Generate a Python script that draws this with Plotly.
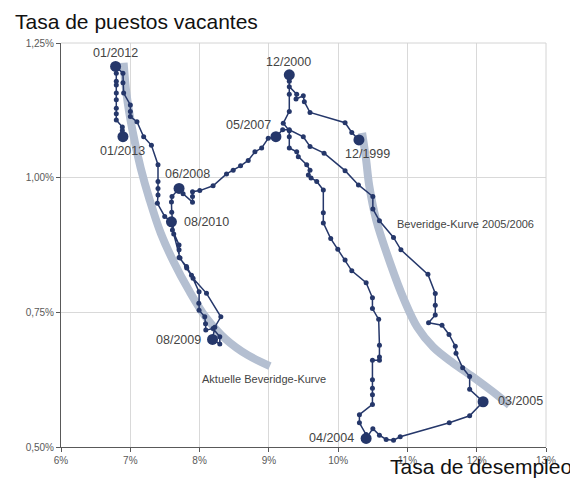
import plotly.graph_objects as go

# Trajectory: unemployment rate (%) and vacancy rate (%), chronological 12/1999 -> 01/2013
u_rate = [
    10.30, 10.197, 10.100, 9.594, 9.512, 9.497, 9.392, 9.402, 9.295, 9.295,
    9.295, 9.295, 9.295, 9.208, 9.295, 9.295, 9.295, 9.402, 9.425, 9.546,
    9.594, 9.570, 9.609, 9.691, 9.786, 9.786, 9.786, 9.893, 9.995, 10.100, 10.197,
    10.404, 10.495, 10.495, 10.585, 10.596, 10.596, 10.596, 10.495, 10.495,
    10.495, 10.495, 10.495, 10.307, 10.307, 10.404, 10.404,
    10.501, 10.596, 10.693, 10.799, 10.896, 11.604, 11.898, 12.092,
    11.898, 11.898, 11.797, 11.701, 11.691, 11.600, 11.499, 11.305, 11.402, 11.402,
    11.402, 11.296, 10.906, 10.799, 10.596, 10.501, 10.501, 10.293, 10.100, 9.797,
    9.594, 9.497, 9.295, 9.199, 9.102,
    8.991, 8.896, 8.799, 8.702, 8.592, 8.485, 8.389, 8.195, 8.003, 7.898, 7.898,
    7.898, 7.762, 7.704,
    7.602, 7.594, 7.598, 7.627, 7.718, 7.815, 7.906, 8.100, 8.307, 8.220, 8.187,
    8.292, 8.292, 8.195, 8.090, 8.086, 8.075, 7.993, 7.989, 7.993, 7.883, 7.811,
    7.704, 7.704, 7.704, 7.608, 7.594,
    7.497, 7.391, 7.400, 7.400, 7.400, 7.400, 7.305, 7.193, 7.096, 7.001, 7.001,
    7.001, 6.904, 6.894, 6.894, 6.788,
    6.798, 6.798, 6.798, 6.798, 6.798, 6.798, 6.798, 6.798, 6.885, 6.885, 6.894,
]
v_rate = [
    1.070, 1.084, 1.102, 1.121, 1.141, 1.152, 1.146, 1.155, 1.169, 1.191,
    1.179, 1.155, 1.123, 1.101, 1.087, 1.076, 1.055, 1.048, 1.039, 1.024,
    1.014, 1.005, 0.9995, 0.993, 0.977, 0.935, 0.916, 0.887, 0.867, 0.847, 0.827,
    0.805, 0.777, 0.757, 0.737, 0.689, 0.667, 0.661, 0.661, 0.625,
    0.609, 0.597, 0.579, 0.560, 0.545, 0.523, 0.516,
    0.534, 0.522, 0.514, 0.5125, 0.519, 0.545, 0.558, 0.584,
    0.607, 0.631, 0.647, 0.674, 0.687, 0.709, 0.726, 0.7305, 0.745, 0.763,
    0.785, 0.8205, 0.866, 0.889, 0.920, 0.942, 0.965, 0.9865, 1.013, 1.0455,
    1.058, 1.076, 1.089, 1.089, 1.076,
    1.073, 1.055, 1.048, 1.032, 1.022, 1.014, 1.007, 0.985, 0.976, 0.974, 0.965,
    0.9545, 0.970, 0.980,
    0.965, 0.955, 0.936, 0.8954, 0.8508, 0.8322, 0.8131, 0.7852, 0.7417, 0.7225, 0.6997,
    0.691, 0.7045, 0.720, 0.717, 0.729, 0.7417, 0.754, 0.767, 0.788, 0.819, 0.835,
    0.852, 0.866, 0.875, 0.903, 0.918,
    0.928, 0.9525, 0.968, 0.980, 0.993, 1.024, 1.060, 1.076, 1.104, 1.1135, 1.123,
    1.135, 1.157, 1.176, 1.194, 1.2065,
    1.194, 1.179, 1.172, 1.157, 1.1445, 1.129, 1.1185, 1.107, 1.094, 1.0875, 1.076,
]

# Highlighted dates
key_dates = ["12/1999", "12/2000", "04/2004", "03/2005", "05/2007",
             "06/2008", "08/2009", "08/2010", "01/2012", "01/2013"]
key_u = [10.30, 9.295, 10.404, 12.092, 9.102, 7.704, 8.187, 7.594, 6.788, 6.894]
key_v = [1.070, 1.191, 0.516, 0.584, 1.076, 0.980, 0.6997, 0.918, 1.2065, 1.076]

# Beveridge curves (gray bands)
curve_now_u = [6.904, 6.947, 7.035, 7.150, 7.280, 7.439, 7.627, 7.844, 8.090, 8.379, 8.697, 9.015]
curve_now_v = [1.2133, 1.1538, 1.0851, 1.0181, 0.9586, 0.8973, 0.8434, 0.7913, 0.7411, 0.7002, 0.6705, 0.6500]
curve_0506_u = [10.346, 10.404, 10.447, 10.549, 10.751, 10.954, 11.142, 11.373, 11.662, 11.952, 12.241, 12.472]
curve_0506_v = [1.0832, 1.0330, 0.9865, 0.9215, 0.8415, 0.7727, 0.7225, 0.6854, 0.6556, 0.6296, 0.6017, 0.5775]

x_ticks = [6, 7, 8, 9, 10, 11, 12, 13]
y_ticks = [0.50, 0.75, 1.00, 1.25]
x_ticktext = [f"{v}%" for v in x_ticks]
y_ticktext = [f"{v:.2f}".replace(".", ",") + "%" for v in y_ticks]

NAVY = "#25376a"
BAND = "rgb(180,191,209)"
LBL = "#444444"

fig = go.Figure()
for cu, cv in [(curve_now_u, curve_now_v), (curve_0506_u, curve_0506_v)]:
    fig.add_trace(go.Scatter(x=cu, y=cv, mode="lines",
                             line=dict(color=BAND, width=8, shape="spline", smoothing=1.0),
                             hoverinfo="skip"))
fig.add_trace(go.Scatter(x=u_rate, y=v_rate, mode="lines+markers",
                         line=dict(color=NAVY, width=1.5),
                         marker=dict(color=NAVY, size=5)))
fig.add_trace(go.Scatter(x=key_u, y=key_v, mode="markers",
                         marker=dict(color=NAVY, size=11), text=key_dates))

# Date labels: (text, x, y, xanchor)
labels = [
    ("01/2012", 6.788, 1.232, "center"),
    ("01/2013", 6.882, 1.050, "center"),
    ("06/2008", 7.822, 1.007, "center"),
    ("05/2007", 8.712, 1.098, "center"),
    ("12/2000", 9.283, 1.215, "center"),
    ("12/1999", 10.426, 1.044, "center"),
    ("08/2010", 7.753, 0.918, "left"),
    ("08/2009", 8.047, 0.698, "right"),
    ("03/2005", 12.284, 0.585, "left"),
    ("04/2004", 10.259, 0.516, "right"),
]
for t, x, y, xa in labels:
    fig.add_annotation(x=x, y=y, text=t, showarrow=False, xanchor=xa, yanchor="middle",
                       font=dict(family="Arial, Liberation Sans", size=12.5, color=LBL))
fig.add_annotation(x=8.013, y=0.627, text="Aktuelle Beveridge-Kurve", showarrow=False,
                   xanchor="left", yanchor="middle",
                   font=dict(family="Arial, Liberation Sans", size=11, color=LBL))
fig.add_annotation(x=10.823, y=0.914, text="Beveridge-Kurve 2005/2006", showarrow=False,
                   xanchor="left", yanchor="middle",
                   font=dict(family="Arial, Liberation Sans", size=11, color=LBL))

fig.add_annotation(xref="paper", yref="paper", x=-0.099, y=1.052, text="Tasa de puestos vacantes",
                   showarrow=False, xanchor="left", yanchor="middle",
                   font=dict(family="Arial, Liberation Sans", size=21, color="#111111"))
fig.add_annotation(xref="paper", yref="paper", x=0.674, y=-0.049, text="Tasa de desempleo",
                   showarrow=False, xanchor="left", yanchor="middle",
                   font=dict(family="Arial, Liberation Sans", size=21, color="#111111"))

# top and right frame lines (light)
fig.add_shape(type="line", xref="paper", yref="paper", x0=0, x1=1, y0=1, y1=1,
              line=dict(color="#d4d4d4", width=1))
fig.add_shape(type="line", xref="paper", yref="paper", x0=1, x1=1, y0=0, y1=1,
              line=dict(color="#d4d4d4", width=1))

fig.update_layout(
    width=570, height=483,
    margin=dict(l=53, r=32, t=35, b=44),
    plot_bgcolor="white", paper_bgcolor="white",
    showlegend=False,
    font=dict(family="Arial, Liberation Sans", color="#595959"),
    xaxis=dict(range=[6, 13], tickvals=x_ticks, ticktext=x_ticktext,
               showgrid=True, gridcolor="#d9d9d9", gridwidth=1,
               showline=True, linecolor="#595959", linewidth=1,
               ticks="outside", ticklen=4, tickcolor="#595959",
               tickfont=dict(size=10, color="#595959"), zeroline=False, automargin=False),
    yaxis=dict(range=[0.5, 1.25], tickvals=y_ticks, ticktext=y_ticktext,
               showgrid=True, gridcolor="#d9d9d9", gridwidth=1,
               showline=True, linecolor="#595959", linewidth=1,
               ticks="outside", ticklen=4, tickcolor="#595959",
               tickfont=dict(size=10, color="#595959"), zeroline=False, automargin=False),
)

fig.write_html("out.html")
